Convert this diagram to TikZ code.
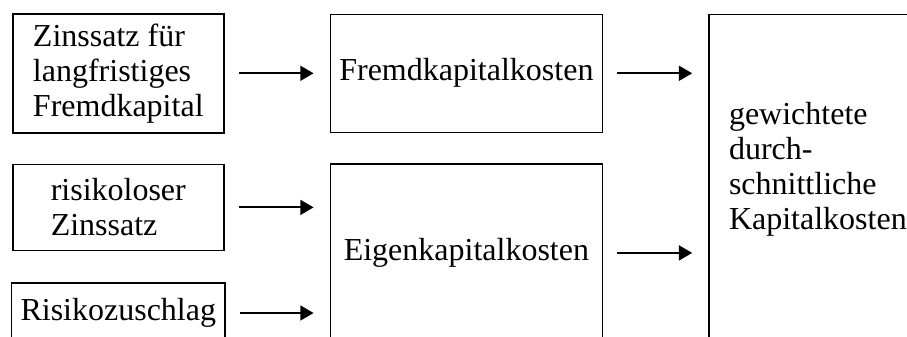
\documentclass[tikz,border=0pt]{standalone}
\usepackage{fontspec}
\setmainfont{Liberation Serif}
\usetikzlibrary{arrows.meta}
\usetikzlibrary{calc,positioning}

\begin{document}
\begin{tikzpicture}[node distance=11.25pt]
	\tikzstyle{kbox}=[draw, line width=0.6pt, align=left,
	font={\fontsize{12pt}{13.125pt}\selectfont}]
	\tikzstyle{pfeil}=[-{Triangle[length=5pt,width=5.6pt]}, line width=0.75pt,
	shorten <=5.25pt, shorten >=6pt]
	\useasboundingbox (0,0) rectangle (340.125pt,-126pt);

	% Eingangsgroessen
	\node[kbox, minimum width=79.125pt, minimum height=44.625pt, anchor=north west] (zins) at (4.5pt,-4.875pt) {Zinssatz für\\langfristiges\\Fremdkapital};
	\node[kbox, minimum width=79.125pt, minimum height=32.25pt] [below=of zins] (risikolos) {risikoloser\\Zinssatz};
	\node[kbox, minimum width=79.125pt, minimum height=22.5pt] [below=11.625pt of risikolos] (zuschlag) {Risikozuschlag};

	% Kapitalkosten
	\node[kbox, minimum width=102pt, minimum height=44.25pt] [right=39.375pt of zins] (fremd) {Fremdkapitalkosten};
	\node[kbox, minimum width=102pt, minimum height=66.75pt] [below=of fremd] (eigen) {Eigenkapitalkosten};
	\node[kbox, right=39.375pt of fremd.north east, anchor=north west, inner xsep=7.5pt, inner ysep=0pt,
	text width=95pt, text height=41.25pt, text depth=83.25pt] (wacc) {gewichtete\\durch-\\schnittliche\\Kapitalkosten};

	\draw[pfeil] (zins.east) -- (zins.east -| fremd.west);
	\draw[pfeil] (risikolos.east) -- (risikolos.east -| eigen.west);
	\draw[pfeil] (zuschlag.east) -- (zuschlag.east -| eigen.west);
	\draw[pfeil] (fremd.east) -- (fremd.east -| wacc.west);
	\draw[pfeil] (eigen.east) -- (eigen.east -| wacc.west);
\end{tikzpicture}
\end{document}
